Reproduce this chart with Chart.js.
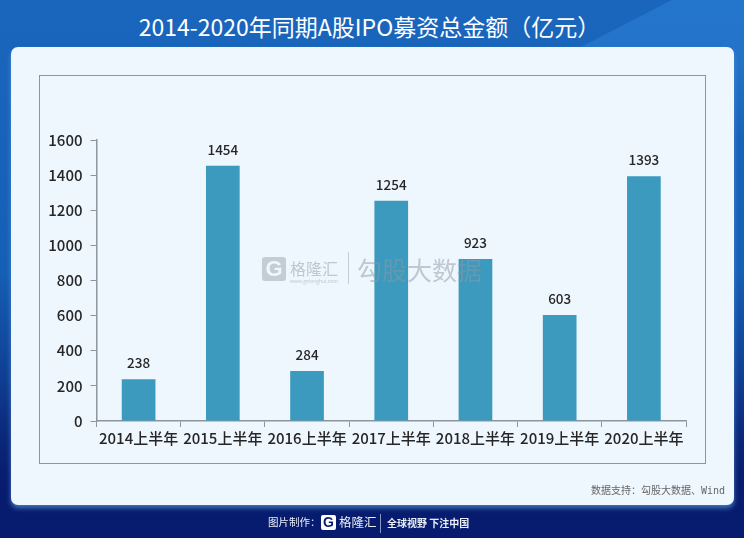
<!DOCTYPE html>
<html lang="zh">
<head>
<meta charset="utf-8">
<title>2014-2020年同期A股IPO募资总金额</title>
<script src="https://cdn.jsdelivr.net/npm/chart.js@4/dist/chart.umd.min.js"></script>
<style>
    html, body { margin: 0; padding: 0; }
    body { font-family: "Noto Sans CJK SC", "Noto Sans", sans-serif; }
    #page {
        position: relative; width: 744px; height: 538px; overflow: hidden;
        background: linear-gradient(180deg, #1a66bd 0%, #1560b6 50%, #0f3f94 70%, #0a2678 82%, #071c6e 90%, #071c6e 100%);
    }
    /* lighter diagonal band, top right */
    #band {
        position: absolute; left: 0; top: 0; width: 744px; height: 140px;
        background: linear-gradient(180deg, #2476cc 0%, #2272c8 45%, rgba(30,110,195,0) 100%);
        clip-path: polygon(672px 0, 744px 0, 744px 140px, 400px 140px);
    }
    #title {
        position: absolute; left: 0; top: 8px; width: 739px; text-align: center;
        color: #fff; font-size: 23px; line-height: 36px; white-space: nowrap;
    }
    #card {
        position: absolute; left: 11px; top: 47px; width: 723px; height: 458px;
        background: #eef6fe; border-radius: 7px;
        box-shadow: 0 3px 5px 0 rgba(90, 150, 215, 0.75);
    }
    #frame {
        position: absolute; left: 39px; top: 75px; width: 665px; height: 387px;
        border: 1.5px solid #8e959c;
    }
    #chart { position: absolute; left: 0; top: 0; }
    #mark { position: absolute; left: 262px; top: 252px; width: 240px; height: 34px; color: #8d98a6; opacity: 0.5; }
    #mark .g {
        position: absolute; left: 0; top: 5px; width: 24px; height: 24px; box-sizing: border-box;
        background: #9aa3ae; color: #eef6fe; border-radius: 3px;
        font: bold 22px/24px "Liberation Sans", sans-serif; text-align: center;
    }
    #mark .n { position: absolute; left: 28px; top: 3px; font-size: 16px; line-height: 26px; white-space: nowrap; }
    #mark .u { position: absolute; left: 28px; top: 26px; font-size: 5px; line-height: 6px; white-space: nowrap; }
    #mark .s { position: absolute; left: 86px; top: 0; height: 32px; border-left: 1px solid #9aa3ae; }
    #mark .b { position: absolute; left: 95px; top: 0; font-size: 25px; line-height: 34px; white-space: nowrap; }
    #source {
        position: absolute; right: 19px; top: 484px; color: #666; font-size: 10px; line-height: 14px;
        font-family: "DejaVu Sans Mono", "Noto Sans CJK SC", monospace; white-space: nowrap;
    }
    #foot { position: absolute; left: 0; top: 513px; width: 744px; height: 22px; color: #e9eef8; }
    #foot span, #foot i { position: absolute; white-space: nowrap; font-style: normal; }
    #foot .by { left: 268px; top: 0; font-size: 10.5px; line-height: 18px; }
    #foot .g {
        left: 321px; top: 2px; width: 15px; height: 15px; background: #fff; color: #071c6e; border-radius: 2px;
        font: bold 14px/15px "Liberation Sans", sans-serif; text-align: center;
    }
    #foot .n { left: 339px; top: 0; font-size: 12.5px; line-height: 18px; }
    #foot .s { left: 380px; top: 1px; height: 19px; border-left: 1px solid #8b97c0; }
    #foot .t { left: 387px; top: 1px; font-size: 10px; font-weight: 700; line-height: 18px; }
</style>
</head>
<body>
<div id="page">
    <div id="band"></div>
    <div id="title">2014-2020年同期A股IPO募资总金额（亿元）</div>
    <div id="card"></div>
    <div id="frame"></div>
    <canvas id="chart" width="744" height="538"></canvas>
    <div id="mark">
        <div class="g">G</div>
        <div class="n">格隆汇</div>
        <div class="u">www.gelonghui.com</div>
        <div class="s"></div>
        <div class="b">勾股大数据</div>
    </div>
    <div id="source">数据支持：勾股大数据、Wind</div>
    <div id="foot">
        <span class="by">图片制作：</span>
        <i class="g">G</i>
        <span class="n">格隆汇</span>
        <i class="s"></i>
        <span class="t">全球视野 下注中国</span>
    </div>
</div>
<script>
const categories = ['2014上半年', '2015上半年', '2016上半年', '2017上半年', '2018上半年', '2019上半年', '2020上半年'];
const amounts = [238, 1454, 284, 1254, 923, 603, 1393];
const yMax = 1600;
const yStep = 200;

const tickFont = { family: '"Noto Sans CJK SC", "Noto Sans", sans-serif', size: 15, weight: '500' };

// value above each bar
const valueLabels = {
    id: 'valueLabels',
    afterDatasetsDraw(chart) {
        const ctx = chart.ctx;
        ctx.save();
        ctx.fillStyle = '#262626';
        ctx.font = '500 13.5px "Noto Sans CJK SC", "Noto Sans", sans-serif';
        ctx.textAlign = 'center';
        ctx.textBaseline = 'middle';
        chart.getDatasetMeta(0).data.forEach((bar, i) => {
            ctx.fillText(amounts[i], bar.x, bar.y - 16);
        });
        ctx.restore();
    }
};

new Chart(document.getElementById('chart'), {
    type: 'bar',
    data: {
        labels: categories,
        datasets: [{ data: amounts, backgroundColor: '#3b9abd', barPercentage: 0.4, categoryPercentage: 1 }]
    },
    options: {
        responsive: false,
        animation: false,
        layout: { padding: { top: 140, right: 58, left: 0, bottom: 0 } },
        plugins: { legend: { display: false }, tooltip: { enabled: false } },
        scales: {
            x: {
                grid: { drawOnChartArea: false, color: '#8e959c', tickLength: 6, offset: true },
                border: { color: '#8e959c', width: 1.5 },
                ticks: { color: '#262626', font: tickFont, padding: 2, maxRotation: 0, autoSkip: false },
                afterFit(scale) { scale.height = 117; }
            },
            y: {
                min: 0,
                max: yMax,
                grid: { drawOnChartArea: false, color: '#8e959c', tickLength: 6 },
                border: { color: '#8e959c', width: 1.5 },
                ticks: { stepSize: yStep, color: '#262626', font: tickFont, padding: 8, callback: v => String(v) },
                afterFit(scale) { scale.width = 96.5; }
            }
        }
    },
    plugins: [valueLabels]
});
</script>
</body>
</html>
